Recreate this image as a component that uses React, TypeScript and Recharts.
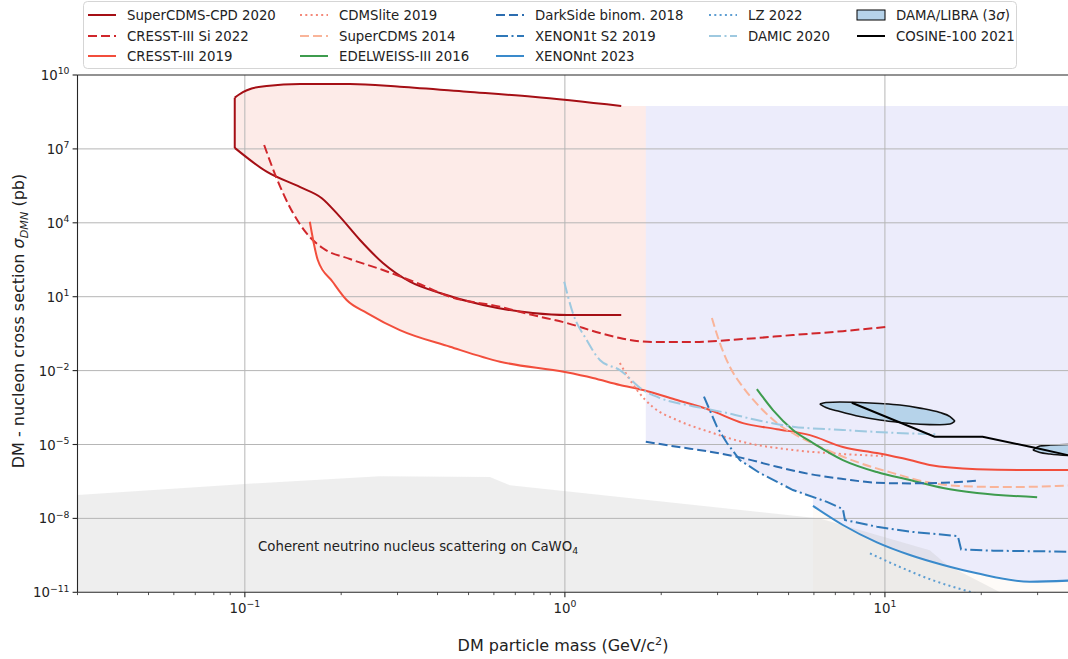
import React from 'react';
import {
  ComposedChart,
  Line,
  Area,
  XAxis,
  YAxis,
  Legend,
  ReferenceLine,
  ReferenceDot,
} from 'recharts';

const FONT = '"DejaVu Sans", Verdana, sans-serif';
const INK = '#222222';

// ---------- axis ticks ----------
const xMajorTicks = [0.1, 1, 10];
const xMinorTicks = [
  0.03, 0.04, 0.05, 0.06, 0.07, 0.08, 0.09,
  0.2, 0.3, 0.4, 0.5, 0.6, 0.7, 0.8, 0.9,
  2, 3, 4, 5, 6, 7, 8, 9,
  20, 30, 40,
];
const yTicks = [1e-11, 1e-8, 1e-5, 1e-2, 1e1, 1e4, 1e7, 1e10];

// ---------- exclusion limits: DM mass (GeV/c^2) vs cross section (pb) ----------
// SuperCDMS-CPD 2020 contour: upper edge, low-mass edge, lower edge
const superCdmsCpdUpper = [
  { mass: 0.093, sigma: 1.2e9 },
  { mass: 0.0986, sigma: 2.0e9 },
  { mass: 0.105, sigma: 2.83e9 },
  { mass: 0.117, sigma: 3.6e9 },
  { mass: 0.149, sigma: 4.3e9 },
  { mass: 0.213, sigma: 4.3e9 },
  { mass: 0.305, sigma: 3.35e9 },
  { mass: 0.494, sigma: 2.1e9 },
  { mass: 0.794, sigma: 1.3e9 },
  { mass: 1.5, sigma: 5.5e8 },
];
const superCdmsCpdEdge = [
  { mass: 0.093, sigma: 1.2e9 },
  { mass: 0.093, sigma: 1.1e7 },
];
const superCdmsCpdLower = [
  { mass: 0.093, sigma: 1.1e7 },
  { mass: 0.117, sigma: 1.19e6 },
  { mass: 0.149, sigma: 2.8e5 },
  { mass: 0.174, sigma: 1.0e5 },
  { mass: 0.198, sigma: 1.77e4 },
  { mass: 0.229, sigma: 2.0e3 },
  { mass: 0.27, sigma: 233 },
  { mass: 0.328, sigma: 40.5 },
  { mass: 0.407, sigma: 14.1 },
  { mass: 0.555, sigma: 4.6 },
  { mass: 0.794, sigma: 2.17 },
  { mass: 1.015, sigma: 1.8 },
  { mass: 1.5, sigma: 1.82 },
];

const cresstSi2022 = [
  { mass: 0.1149, sigma: 1.44e7 },
  { mass: 0.1256, sigma: 6.6e5 },
  { mass: 0.138, sigma: 4.5e4 },
  { mass: 0.156, sigma: 3.7e3 },
  { mass: 0.175, sigma: 946 },
  { mass: 0.213, sigma: 339 },
  { mass: 0.27, sigma: 121 },
  { mass: 0.345, sigma: 35.9 },
  { mass: 0.4375, sigma: 10 },
  { mass: 0.627, sigma: 3.9 },
  { mass: 0.794, sigma: 1.8 },
  { mass: 1.015, sigma: 0.85 },
  { mass: 1.286, sigma: 0.335 },
  { mass: 1.485, sigma: 0.21 },
  { mass: 1.884, sigma: 0.145 },
  { mass: 2.51, sigma: 0.145 },
  { mass: 3.6, sigma: 0.19 },
  { mass: 5.16, sigma: 0.278 },
  { mass: 7.39, sigma: 0.4 },
  { mass: 10.2, sigma: 0.6 },
];

const cresst2019 = [
  { mass: 0.1596, sigma: 1.1e4 },
  { mass: 0.169, sigma: 308 },
  { mass: 0.188, sigma: 40.5 },
  { mass: 0.208, sigma: 7.3 },
  { mass: 0.241, sigma: 2.17 },
  { mass: 0.305, sigma: 0.44 },
  { mass: 0.4375, sigma: 0.093 },
  { mass: 0.627, sigma: 0.023 },
  { mass: 1.0, sigma: 0.0087 },
  { mass: 1.223, sigma: 0.005 },
  { mass: 1.485, sigma: 0.0026 },
  { mass: 1.754, sigma: 0.00163 },
  { mass: 2.24, sigma: 6.4e-4 },
  { mass: 2.84, sigma: 2.5e-4 },
  { mass: 3.6, sigma: 7.4e-5 },
  { mass: 4.6, sigma: 4.2e-5 },
  { mass: 5.83, sigma: 2.4e-5 },
  { mass: 7.39, sigma: 7.9e-6 },
  { mass: 9.44, sigma: 4.5e-6 },
  { mass: 11.97, sigma: 2.34e-6 },
  { mass: 13.8, sigma: 1.47e-6 },
  { mass: 19.4, sigma: 1.0e-6 },
  { mass: 27.8, sigma: 9.2e-7 },
  { mass: 40, sigma: 9.2e-7 },
];

const cdmsLite2019 = [
  { mass: 1.485, sigma: 0.0203 },
  { mass: 1.679, sigma: 1.63e-3 },
  { mass: 1.884, sigma: 3.3e-4 },
  { mass: 2.24, sigma: 9.8e-5 },
  { mass: 2.84, sigma: 3.2e-5 },
  { mass: 3.6, sigma: 1.26e-5 },
  { mass: 5.16, sigma: 6.0e-6 },
  { mass: 7.39, sigma: 4.1e-6 },
  { mass: 9.86, sigma: 3.4e-6 },
];

const superCdms2014 = [
  { mass: 2.88, sigma: 1.36 },
  { mass: 3.05, sigma: 0.131 },
  { mass: 3.28, sigma: 0.014 },
  { mass: 3.6, sigma: 2.15e-3 },
  { mass: 4.07, sigma: 3.3e-4 },
  { mass: 4.6, sigma: 7.4e-5 },
  { mass: 5.42, sigma: 2.0e-5 },
  { mass: 6.59, sigma: 6.0e-6 },
  { mass: 8.35, sigma: 1.77e-6 },
  { mass: 10.6, sigma: 6.9e-7 },
  { mass: 13.5, sigma: 3.0e-7 },
  { mass: 17.1, sigma: 2.06e-7 },
  { mass: 24.5, sigma: 1.87e-7 },
  { mass: 40, sigma: 2.25e-7 },
];

const edelweiss2016 = [
  { mass: 3.98, sigma: 1.78e-3 },
  { mass: 4.47, sigma: 2.5e-4 },
  { mass: 5.16, sigma: 3.9e-5 },
  { mass: 5.96, sigma: 1.15e-5 },
  { mass: 7.39, sigma: 2.34e-6 },
  { mass: 9.44, sigma: 7.6e-7 },
  { mass: 11.97, sigma: 3.6e-7 },
  { mass: 15.2, sigma: 1.7e-7 },
  { mass: 19.4, sigma: 1.07e-7 },
  { mass: 29.9, sigma: 7.3e-8 },
];

const darkSide2018 = [
  { mass: 1.79, sigma: 1.29e-5 },
  { mass: 2.24, sigma: 8.1e-6 },
  { mass: 2.84, sigma: 5.1e-6 },
  { mass: 3.6, sigma: 2.8e-6 },
  { mass: 4.6, sigma: 1.25e-6 },
  { mass: 5.83, sigma: 6.3e-7 },
  { mass: 7.39, sigma: 4.0e-7 },
  { mass: 9.44, sigma: 2.8e-7 },
  { mass: 11.97, sigma: 2.64e-7 },
  { mass: 15.2, sigma: 2.8e-7 },
  { mass: 19.5, sigma: 3.4e-7 },
];

const xenon1tS2 = [
  { mass: 2.72, sigma: 8.7e-4 },
  { mass: 2.985, sigma: 5.3e-5 },
  { mass: 3.21, sigma: 1.15e-5 },
  { mass: 3.52, sigma: 2.34e-6 },
  { mass: 4.07, sigma: 6.9e-7 },
  { mass: 5.16, sigma: 1.42e-7 },
  { mass: 6.59, sigma: 4.7e-8 },
  { mass: 7.39, sigma: 2.4e-8 },
  { mass: 7.5, sigma: 8.6e-9 },
  { mass: 9.44, sigma: 4.6e-9 },
  { mass: 11.97, sigma: 2.9e-9 },
  { mass: 16.9, sigma: 1.92e-9 },
  { mass: 17.3, sigma: 5.5e-10 },
  { mass: 21.8, sigma: 4.9e-10 },
  { mass: 40, sigma: 4.4e-10 },
];

const xenonNt2023 = [
  { mass: 5.96, sigma: 3.2e-8 },
  { mass: 7.39, sigma: 5.4e-9 },
  { mass: 9.44, sigma: 1.06e-9 },
  { mass: 11.97, sigma: 3.25e-10 },
  { mass: 15.2, sigma: 1.28e-10 },
  { mass: 19.4, sigma: 5.9e-11 },
  { mass: 28.4, sigma: 2.7e-11 },
  { mass: 40, sigma: 3.1e-11 },
];

const lz2022 = [
  { mass: 8.98, sigma: 3.8e-10 },
  { mass: 11.1, sigma: 1.09e-10 },
  { mass: 14.1, sigma: 3.1e-11 },
  { mass: 18.0, sigma: 1.15e-11 },
  { mass: 22.9, sigma: 5.0e-12 },
];

const damic2020 = [
  { mass: 0.995, sigma: 40.5 },
  { mass: 1.059, sigma: 2.17 },
  { mass: 1.17, sigma: 0.174 },
  { mass: 1.286, sigma: 0.027 },
  { mass: 1.485, sigma: 0.0105 },
  { mass: 1.754, sigma: 1.63e-3 },
  { mass: 1.98, sigma: 7.7e-4 },
  { mass: 2.51, sigma: 3.6e-4 },
  { mass: 3.21, sigma: 1.9e-4 },
  { mass: 4.07, sigma: 9.2e-5 },
  { mass: 5.16, sigma: 5.3e-5 },
  { mass: 7.39, sigma: 3.9e-5 },
  { mass: 10.6, sigma: 3.0e-5 },
  { mass: 14.5, sigma: 2.6e-5 },
];

const cosine2021 = [
  { mass: 7.88, sigma: 4.95e-4 },
  { mass: 14.3, sigma: 2.06e-5 },
  { mass: 20.2, sigma: 2.06e-5 },
  { mass: 29.9, sigma: 7.0e-6 },
  { mass: 37.3, sigma: 3.7e-6 },
  { mass: 40, sigma: 3.2e-6 },
];

// DAMA/LIBRA 3-sigma contours as [lower, upper] bands
const damaLibraLow = [
  { mass: 6.26, band: [4.39e-4, 4.39e-4] },
  { mass: 6.54, band: [3.16e-4, 5.05e-4] },
  { mass: 7.23, band: [2.18e-4, 5.3e-4] },
  { mass: 8.35, band: [1.36e-4, 5.05e-4] },
  { mass: 9.64, band: [9.8e-5, 4.6e-4] },
  { mass: 11.14, band: [7.8e-5, 4.0e-4] },
  { mass: 12.86, band: [6.6e-5, 3.0e-4] },
  { mass: 14.85, band: [6.3e-5, 1.98e-4] },
  { mass: 15.97, band: [6.8e-5, 1.36e-4] },
  { mass: 16.55, band: [8.95e-5, 8.95e-5] },
];

const damaLibraHigh = [
  { mass: 29.0, band: [5.96e-6, 5.96e-6] },
  { mass: 30.5, band: [4.7e-6, 8.65e-6] },
  { mass: 32.8, band: [4.1e-6, 9.5e-6] },
  { mass: 37.3, band: [3.56e-6, 9.96e-6] },
  { mass: 40, band: [3.4e-6, 9.96e-6] },
];

// ---------- shaded regions ----------
const cryogenicExcluded = [
  { mass: 0.093, band: [1.1e7, 1.2e9] },
  { mass: 0.0986, band: [6.3e6, 2.0e9] },
  { mass: 0.105, band: [3.6e6, 2.83e9] },
  { mass: 0.117, band: [1.19e6, 3.6e9] },
  { mass: 0.1256, band: [6.6e5, 3.75e9] },
  { mass: 0.138, band: [4.5e4, 4.0e9] },
  { mass: 0.156, band: [3.7e3, 4.3e9] },
  { mass: 0.164, band: [1.25e3, 4.3e9] },
  { mass: 0.169, band: [308, 4.3e9] },
  { mass: 0.188, band: [40.5, 4.3e9] },
  { mass: 0.208, band: [7.3, 4.3e9] },
  { mass: 0.241, band: [2.17, 4.0e9] },
  { mass: 0.305, band: [0.44, 3.35e9] },
  { mass: 0.4375, band: [0.093, 2.4e9] },
  { mass: 0.627, band: [0.023, 1.66e9] },
  { mass: 1.0, band: [0.0087, 9.6e8] },
  { mass: 1.223, band: [0.005, 7.3e8] },
  { mass: 1.485, band: [0.0026, 5.5e8] },
  { mass: 1.79, band: [0.0015, 5.5e8] },
];

const nobleLiquidExcluded = [
  { mass: 1.79, band: [1.29e-5, 5.5e8] },
  { mass: 2.24, band: [8.1e-6, 5.5e8] },
  { mass: 2.84, band: [5.1e-6, 5.5e8] },
  { mass: 3.45, band: [3.1e-6, 5.5e8] },
  { mass: 3.52, band: [2.34e-6, 5.5e8] },
  { mass: 4.07, band: [6.9e-7, 5.5e8] },
  { mass: 5.16, band: [1.42e-7, 5.5e8] },
  { mass: 5.96, band: [7.3e-8, 5.5e8] },
  { mass: 5.96, band: [3.2e-8, 5.5e8] },
  { mass: 7.39, band: [5.4e-9, 5.5e8] },
  { mass: 9.44, band: [1.06e-9, 5.5e8] },
  { mass: 11.97, band: [3.25e-10, 5.5e8] },
  { mass: 15.2, band: [1.28e-10, 5.5e8] },
  { mass: 19.4, band: [5.9e-11, 5.5e8] },
  { mass: 28.4, band: [2.7e-11, 5.5e8] },
  { mass: 40, band: [3.1e-11, 5.5e8] },
];

const xenonFloor = [
  { mass: 5.96, band: [1e-11, 3.2e-8] },
  { mass: 7.39, band: [1e-11, 5.4e-9] },
  { mass: 9.44, band: [1e-11, 1.06e-9] },
  { mass: 11.97, band: [1e-11, 3.25e-10] },
  { mass: 15.2, band: [1e-11, 1.28e-10] },
  { mass: 19.4, band: [1e-11, 5.9e-11] },
  { mass: 28.4, band: [1e-11, 2.7e-11] },
  { mass: 40, band: [1e-11, 3.1e-11] },
];

const neutrinoFloorCaWO4 = [
  { mass: 0.03, sigma: 8.9e-8 },
  { mass: 0.1, sigma: 2.5e-7 },
  { mass: 0.264, sigma: 5.2e-7 },
  { mass: 0.583, sigma: 4.8e-7 },
  { mass: 0.673, sigma: 2.2e-7 },
  { mass: 6.26, sigma: 1.0e-8 },
  { mass: 13.8, sigma: 5.1e-10 },
  { mass: 15.6, sigma: 1.3e-10 },
  { mass: 22.9, sigma: 1e-11 },
];

// ---------- styling ----------
const C = {
  cpd: '#a50f15',
  cresstSi: '#d0262b',
  cresst: '#f24e3c',
  cdmsLite: '#f4897a',
  scdms: '#f9b499',
  edelweiss: '#3e9c4e',
  darkside: '#2c6db0',
  x1t: '#2f78b8',
  xnt: '#3a8acb',
  lz: '#5e9ed2',
  damic: '#9ec9e0',
  dama: '#b6d3ea',
  cosine: '#000000',
};
const DASH = '9 4';
const DOT = '2 3.3';
const DASHDOT = '12 3.5 2 3.5';

const legendEntries = [
  { label: 'SuperCDMS-CPD 2020', color: C.cpd, dash: undefined },
  { label: 'CRESST-III Si 2022', color: C.cresstSi, dash: DASH },
  { label: 'CRESST-III 2019', color: C.cresst, dash: undefined },
  { label: 'CDMSlite 2019', color: C.cdmsLite, dash: DOT },
  { label: 'SuperCDMS 2014', color: C.scdms, dash: DASH },
  { label: 'EDELWEISS-III 2016', color: C.edelweiss, dash: undefined },
  { label: 'DarkSide binom. 2018', color: C.darkside, dash: DASH },
  { label: 'XENON1t S2 2019', color: C.x1t, dash: DASHDOT },
  { label: 'XENONnt 2023', color: C.xnt, dash: undefined },
  { label: 'LZ 2022', color: C.lz, dash: DOT },
  { label: 'DAMIC 2020', color: C.damic, dash: DASHDOT },
  { label: 'DAMA/LIBRA (3σ)', color: C.dama, dash: undefined, patch: true },
  { label: 'COSINE-100 2021', color: C.cosine, dash: undefined },
];
const legendColumnSizes = [3, 3, 3, 2, 2];
const legendColumnX = [88, 300, 496, 709, 857];
const legendRowY = [15, 36, 56];

const isMajor = (v: number) => {
  const e = Math.log10(v);
  return Math.abs(e - Math.round(e)) < 1e-9;
};
const expText = (v: number) => {
  const e = Math.round(Math.log10(v));
  return e < 0 ? '\u2212' + Math.abs(e) : String(e);
};

function XTick(props: any) {
  const { x, y, payload } = props;
  const v = payload.value;
  const major = isMajor(v);
  return (
    <g>
      <line x1={x} x2={x} y1={y} y2={y + (major ? 4.9 : 2.8)} stroke="#262626" strokeWidth={major ? 1.1 : 0.8} />
      {major && (
        <text x={x} y={y + 20.5} textAnchor="middle" fontFamily={FONT} fontSize={13.3} fill={INK}>
          10
          <tspan dy={-5.6} fontSize={9.3}>{expText(v)}</tspan>
        </text>
      )}
    </g>
  );
}

function YTick(props: any) {
  const { x, y, payload } = props;
  return (
    <g>
      <line x1={x - 4.9} x2={x} y1={y} y2={y} stroke="#262626" strokeWidth={1.1} />
      <text x={x - 8} y={y + 5} textAnchor="end" fontFamily={FONT} fontSize={13.3} fill={INK}>
        10
        <tspan dy={-5.6} fontSize={9.3}>{expText(payload.value)}</tspan>
      </text>
    </g>
  );
}

// renders "(3σ)" with an italic sigma, the rest as plain text
function LegendLabel({ text }: { text: string }) {
  const i = text.indexOf('σ');
  if (i < 0) return <>{text}</>;
  return (
    <>
      {text.slice(0, i)}
      <tspan fontStyle="italic">σ</tspan>
      {text.slice(i + 1)}
    </>
  );
}

function LegendBox() {
  let idx = 0;
  const items: React.ReactNode[] = [];
  legendColumnSizes.forEach((n, col) => {
    for (let row = 0; row < n; row++) {
      const e: any = legendEntries[idx++];
      const x0 = legendColumnX[col];
      const y0 = legendRowY[row];
      items.push(
        <g key={e.label}>
          {e.patch ? (
            <rect x={x0} y={y0 - 5} width={28} height={10} fill={e.color} stroke="#000" strokeWidth={1} />
          ) : (
            <line x1={x0} x2={x0 + 28} y1={y0} y2={y0} stroke={e.color} strokeWidth={2} strokeDasharray={e.dash} />
          )}
          <text x={x0 + 39} y={y0 + 4.8} fontFamily={FONT} fontSize={13.3} fill={INK}>
            <LegendLabel text={e.label} />
          </text>
        </g>
      );
    }
  });
  return (
    <svg width={1068} height={72} style={{ display: 'block' }}>
      <rect x={83.5} y={1.5} width={933} height={67} rx={4} fill="#fff" fillOpacity={0.85} stroke="#d5d5d5" />
      {items}
    </svg>
  );
}

function NeutrinoNote(props: any) {
  const { cx, cy } = props;
  return (
    <text x={cx} y={cy} fontFamily={FONT} fontSize={13.3} fill={INK}>
      Coherent neutrino nucleus scattering on CaWO
      <tspan dy={3} fontSize={9.3}>4</tspan>
    </text>
  );
}

const lineCommon = {
  dataKey: 'sigma',
  dot: false,
  activeDot: false,
  isAnimationActive: false,
  strokeWidth: 2,
  legendType: 'none' as const,
};

export default function App() {
  return (
    <div
      style={{
        position: 'absolute',
        left: 0,
        top: 0,
        width: 1068,
        height: 659,
        overflow: 'hidden',
        background: '#fff',
      }}
    >
      <ComposedChart width={1100} height={659} margin={{ top: 75, right: 22.4, bottom: 0, left: 0 }}>
        <XAxis
          type="number"
          dataKey="mass"
          scale="log"
          domain={[0.03, 40]}
          allowDataOverflow
          ticks={[...xMinorTicks, ...xMajorTicks].sort((a, b) => a - b)}
          interval={0}
          tick={(p: any) => <XTick {...p} />}
          tickLine={false}
          tickSize={0}
          tickMargin={0}
          height={66.7}
          axisLine={{ stroke: '#262626', strokeWidth: 1.1 }}
          label={{
            content: () => (
              <text x={563} y={651} textAnchor="middle" fontFamily={FONT} fontSize={16} fill={INK}>
                DM particle mass (GeV/c
                <tspan dy={-6} fontSize={11.2}>2</tspan>
                <tspan dy={6}>)</tspan>
              </text>
            ),
          }}
        />
        <YAxis
          type="number"
          scale="log"
          domain={[1e-11, 1e10]}
          allowDataOverflow
          ticks={yTicks}
          interval={0}
          tick={(p: any) => <YTick {...p} />}
          tickLine={false}
          tickSize={0}
          tickMargin={0}
          width={77.5}
          axisLine={{ stroke: '#262626', strokeWidth: 1.1 }}
          label={{
            content: () => (
              <text
                transform="translate(24 321) rotate(-90)"
                textAnchor="middle"
                fontFamily={FONT}
                fontSize={16}
                fill={INK}
              >
                DM - nucleon cross section{' '}
                <tspan fontStyle="italic">σ</tspan>
                <tspan fontStyle="italic" fontSize={11.2} dy={3.5}>DMN</tspan>
                <tspan dy={-3.5}> (pb)</tspan>
              </text>
            ),
          }}
        />

        {/* shaded regions */}
        <Area data={cryogenicExcluded} dataKey="band" type="linear" fill="#f7b2a8" fillOpacity={0.26} stroke="none" isAnimationActive={false} legendType="none" />
        <Area data={nobleLiquidExcluded} dataKey="band" type="linear" fill="#b4b4f0" fillOpacity={0.25} stroke="none" isAnimationActive={false} legendType="none" />
        <Area data={xenonFloor} dataKey="band" type="monotoneX" fill="#f3c6a2" fillOpacity={0.08} stroke="none" isAnimationActive={false} legendType="none" />
        <Area data={neutrinoFloorCaWO4} dataKey="sigma" baseValue={1e-11} type="linear" fill="#bdbdbd" fillOpacity={0.26} stroke="none" isAnimationActive={false} legendType="none" />

        {/* grid */}
        {xMajorTicks.map((v) => (
          <ReferenceLine key={'gx' + v} x={v} stroke="#b6b6b6" strokeWidth={1} zIndex={150} />
        ))}
        {yTicks.slice(1, -1).map((v) => (
          <ReferenceLine key={'gy' + v} y={v} stroke="#b6b6b6" strokeWidth={1} zIndex={150} />
        ))}
        <ReferenceLine y={1e10} stroke="#262626" strokeWidth={1.1} />

        {/* DAMA/LIBRA contours */}
        <Area data={damaLibraLow} dataKey="band" type="monotoneX" fill={C.dama} fillOpacity={1} stroke="#111" strokeWidth={1.6} isAnimationActive={false} legendType="none" />
        <Area data={damaLibraHigh} dataKey="band" type="monotoneX" fill={C.dama} fillOpacity={1} stroke="#111" strokeWidth={1.6} isAnimationActive={false} legendType="none" />

        {/* limits */}
        <Line {...lineCommon} data={superCdmsCpdUpper} type="monotoneX" stroke={C.cpd} />
        <Line {...lineCommon} data={superCdmsCpdEdge} type="linear" stroke={C.cpd} />
        <Line {...lineCommon} data={superCdmsCpdLower} type="monotoneX" stroke={C.cpd} />
        <Line {...lineCommon} data={cresstSi2022} type="monotoneX" stroke={C.cresstSi} strokeDasharray={DASH} />
        <Line {...lineCommon} data={cresst2019} type="monotoneX" stroke={C.cresst} />
        <Line {...lineCommon} data={cdmsLite2019} type="monotoneX" stroke={C.cdmsLite} strokeDasharray={DOT} />
        <Line {...lineCommon} data={superCdms2014} type="monotoneX" stroke={C.scdms} strokeDasharray={DASH} />
        <Line {...lineCommon} data={edelweiss2016} type="monotoneX" stroke={C.edelweiss} />
        <Line {...lineCommon} data={darkSide2018} type="monotoneX" stroke={C.darkside} strokeDasharray={DASH} />
        <Line {...lineCommon} data={xenon1tS2} type="linear" stroke={C.x1t} strokeDasharray={DASHDOT} />
        <Line {...lineCommon} data={xenonNt2023} type="monotoneX" stroke={C.xnt} />
        <Line {...lineCommon} data={lz2022} type="monotoneX" stroke={C.lz} strokeDasharray={DOT} />
        <Line {...lineCommon} data={damic2020} type="monotoneX" stroke={C.damic} strokeDasharray={DASHDOT} />
        <Line {...lineCommon} data={cosine2021} type="linear" stroke={C.cosine} />

        <ReferenceDot x={0.11} y={4.7e-10} r={0} shape={(p: any) => <NeutrinoNote {...p} />} />

        <Legend
          layout="horizontal"
          verticalAlign="middle"
          align="center"
          content={() => <LegendBox />}
          wrapperStyle={{ position: 'absolute', top: 0, left: 0, width: 1068, height: 72 }}
        />
      </ComposedChart>
    </div>
  );
}
